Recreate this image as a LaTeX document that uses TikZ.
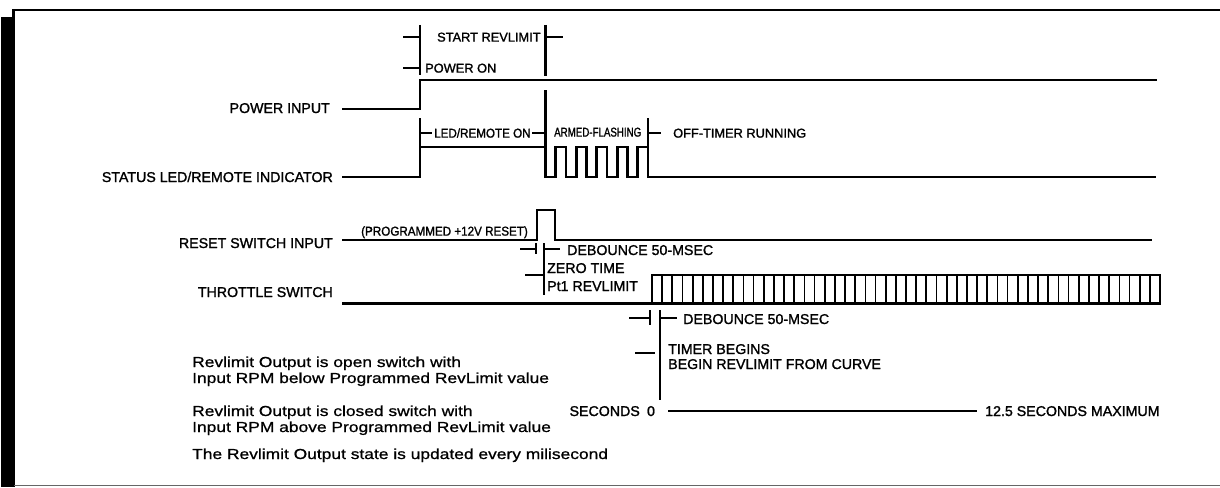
\documentclass[tikz,border=0pt]{standalone}
\usepackage{fontspec}
\setmainfont{Liberation Sans}
\newfontfamily\capsfont[FakeBold=1.4]{Liberation Sans}
\newfontfamily\narrowfont[FakeBold=1.4,FakeStretch=0.91]{Liberation Sans}
\newfontfamily\squeezefont[FakeBold=1.2,FakeStretch=0.76]{Liberation Sans}
\newfontfamily\notefont[FakeBold=0.9,FakeStretch=1.2]{Liberation Sans}
\usetikzlibrary{positioning,calc}

\begin{document}
\begin{tikzpicture}[x=1pt, y=-1pt,
  sig/.style={line width=2.6pt},
  brk/.style={line width=2.2pt},
  comb/.style={line width=1.7pt},
  signame/.style={font=\capsfont\fontsize{14.2}{16}\selectfont, anchor=base east, inner sep=0pt},
  tag/.style={font=\capsfont\fontsize{12.8}{15}\selectfont, anchor=base west, inner sep=0pt},
  narrowtag/.style={tag, font=\narrowfont\fontsize{12.8}{15}\selectfont},
  squeezetag/.style={tag, font=\squeezefont\fontsize{12.8}{15}\selectfont},
  bigtag/.style={font=\capsfont\fontsize{14.2}{16}\selectfont, anchor=base west, inner sep=0pt},
  note/.style={font=\notefont\fontsize{14.5}{16}\selectfont, anchor=base west, inner sep=0pt}]
  \useasboundingbox (0,0) rectangle (1220,487);

  % frame
  \fill (1,17) rectangle (14,487);
  \draw[line width=2.6pt] (13.5,487) -- (13.5,10) -- (1220,10);
  \draw[line width=1.6pt, gray!80!black] (14,485.5) -- (1220,485.5);

  % signal names
  \node[signame] (pwr) at (330,113) {POWER INPUT};
  \node[signame] (led) at (333,182) {STATUS LED/REMOTE INDICATOR};
  \node[signame] (rst) at (333,248) {RESET SWITCH INPUT};
  \node[signame] (thr) at (333,297) {THROTTLE SWITCH};

  % waveforms
  \draw[sig] (342,109) -- (420,109) -- (420,80) -- (1157,80);
  \draw[sig] (342,177) -- (420,177) -- (420,147) -- (545.5,147) -- (545.5,177)
    foreach \k in {1,3,5,7,9} {
      -- ({545.5+\k*10.25},177) -- ({545.5+\k*10.25},147)
      -- ({545.5+(\k+1)*10.25},147) -- ({545.5+(\k+1)*10.25},177)}
    -- (1156,177);
  \draw[sig] (342,240) -- (537,240) -- (537,210) -- (555,210) -- (555,240) -- (1152,240);
  \draw[sig] (342,303.5) -- (652,303.5) -- (652,275) -- (1160,275) -- (1160,303.5) -- (652,303.5);
  \foreach \k in {1,...,49}
    \draw[comb] ({652+\k*10.16},275) -- ({652+\k*10.16},303.5);

  % power on / start revlimit
  \node[tag] (start) at (437,41.6) {START REVLIMIT};
  \node[tag] (pon) at (425,72.6) {POWER ON};
  \draw[brk] (403,37) -- (420,37) (403,68) -- (420,68) (420,25) -- (420,75);
  \draw[brk] (545.5,25) -- (545.5,76) (545.5,37) -- (563,37);

  % status phases
  \node[narrowtag] (ledon) at (434,137.6) {LED/REMOTE ON};
  \node[squeezetag] (armed) at (554,136.6) {ARMED-FLASHING};
  \node[tag] (offt) at (673,137.6) {OFF-TIMER RUNNING};
  \draw[brk] (420,118) -- (420,147) (420,133) -- (432,133);
  \draw[brk] (532,133) -- (545.5,133) (545.5,90) -- (545.5,147);
  \draw[brk] (648,118) -- (648,147) (648,133) -- (661,133);

  % reset
  \node[narrowtag] (prog) at (361,235.6) {(PROGRAMMED +12V RESET)};
  \node[bigtag] (db1) at (567,255) {DEBOUNCE 50-MSEC};
  \node[bigtag] (zt) at (547,273) {ZERO TIME};
  \node[bigtag] (pt1) at (547,291) {Pt1 REVLIMIT};
  \draw[brk] (520,249) -- (536,249) (536,243) -- (536,254);
  \draw[brk] (544,243) -- (544,295) (544,249) -- (560,249);
  \draw[brk] (525,275) -- (544,275);

  % throttle
  \node[bigtag] (db2) at (683,324) {DEBOUNCE 50-MSEC};
  \node[bigtag] (tb) at (668,354) {TIMER BEGINS};
  \node[bigtag] (brc) at (668,369) {BEGIN REVLIMIT FROM CURVE};
  \draw[brk] (629,318) -- (650,318) (650,310) -- (650,325);
  \draw[brk] (660,310) -- (660,400) (660,318) -- (677,318);
  \draw[brk] (635,353) -- (655,353);

  % time axis
  \node[bigtag, anchor=base east] (secs) at (640,416) {SECONDS};
  \node[bigtag, anchor=base] (zero) at (651,416) {0};
  \node[bigtag] (maxs) at (985,416) {12.5 SECONDS MAXIMUM};
  \draw[sig] ([xshift=13pt]zero.east) -- ([xshift=-8pt]maxs.west);

  % notes
  \node[note] (n1) at (192,367) {Revlimit Output is open switch with};
  \node[note] (n2) at (192,383) {Input RPM below Programmed RevLimit value};
  \node[note] (n3) at (192,416) {Revlimit Output is closed switch with};
  \node[note] (n4) at (192,432) {Input RPM above Programmed RevLimit value};
  \node[note] (n5) at (192,459) {The Revlimit Output state is updated every milisecond};
\end{tikzpicture}
\end{document}
